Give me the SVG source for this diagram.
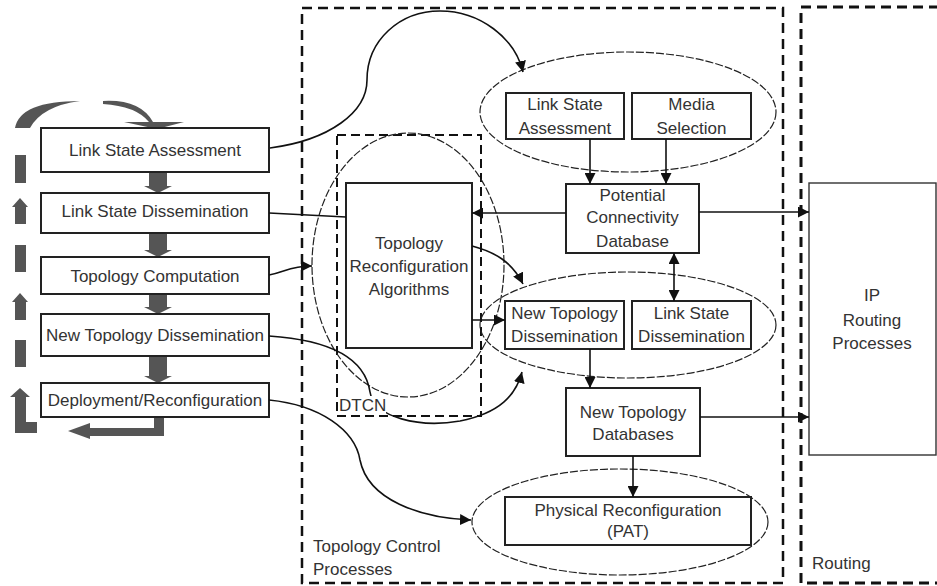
<svg xmlns="http://www.w3.org/2000/svg" width="937" height="586" viewBox="0 0 937 586">
<defs>
<marker id="ah" viewBox="0 0 10 10" refX="10" refY="5" markerWidth="11" markerHeight="11" markerUnits="userSpaceOnUse" orient="auto-start-reverse">
<path d="M0,0 L10,5 L0,10 Z" fill="#111"/>
</marker>
<style>
.box{fill:#fff;stroke:#222;stroke-width:2}
.t{font-family:"Liberation Sans",Arial,sans-serif;font-size:17px;fill:#333;text-anchor:middle}
.tl{font-family:"Liberation Sans",Arial,sans-serif;font-size:17px;fill:#333}
.con{fill:none;stroke:#111;stroke-width:1.6}
.ell{fill:none;stroke:#222;stroke-width:1.2;stroke-dasharray:8 2}
.gray{fill:#555;stroke:none}
.frame{fill:none;stroke:#111;stroke-width:2.5;stroke-dasharray:10 6}
</style>
</defs>
<rect width="937" height="586" fill="#fff"/>

<g id="topology-control-frame">
<rect class="frame" x="302" y="8" width="481" height="575"/>
<text class="tl" x="313" y="552">Topology Control</text>
<text class="tl" x="313" y="575">Processes</text>
</g>
<g id="routing-frame">
<rect class="frame" x="801" y="7" width="160" height="576" style="stroke-width:3"/>
<text class="tl" x="812" y="569">Routing</text>
</g>

<g id="dtcn">
<rect x="337" y="135" width="144" height="281" fill="none" stroke="#111" stroke-width="2" stroke-dasharray="9 5"/>
<ellipse class="ell" cx="408" cy="265" rx="96" ry="132"/>
</g>

<g id="ellipses">
<ellipse class="ell" cx="628" cy="112" rx="148" ry="60"/>
<ellipse class="ell" cx="628" cy="325" rx="148" ry="53"/>
<ellipse class="ell" cx="620" cy="522" rx="148" ry="53"/>
</g>

<g id="left-cycle">
<path class="gray" d="M149,172 H167 V186 H172 L158,193 L144,186 H149 Z"/>
<path class="gray" d="M149,233 H167 V250 H172 L158,257 L144,250 H149 Z"/>
<path class="gray" d="M149,294 H167 V307 H172 L158,314 L144,307 H149 Z"/>
<path class="gray" d="M149,356 H167 V376 H172 L158,383 L144,376 H149 Z"/>
<path class="gray" d="M154,417 H164 V436 H90 V439 L68,431 L90,423 V428 H154 Z"/>
<rect class="gray" x="15" y="155" width="11" height="28"/>
<path class="gray" d="M15,224 V207 H12 L20,198 L28,207 H26 V224 Z"/>
<rect class="gray" x="15" y="245" width="11" height="27"/>
<path class="gray" d="M15,320 V302 H12 L20,293 L28,302 H26 V320 Z"/>
<rect class="gray" x="15" y="340" width="11" height="27"/>
<path class="gray" d="M15,433 V397 H10 L20,388 L30,397 H26 V422 H37 V433 Z"/>
<path class="gray" d="M15,128 Q20,101 80,101 Q42,106 30,128 Z"/>
<path class="gray" d="M103,101 Q140,99 153,122 L149,122 Q136,106 103,104 Z"/>
<path class="gray" d="M124,122 L184,122 L157,129 Z"/>
</g>

<g id="link-state-assessment-step">
<rect class="box" x="41" y="128" width="228" height="44"/>
<text class="t" x="155" y="156">Link State Assessment</text>
</g>
<g id="link-state-dissemination-step">
<rect class="box" x="41" y="193" width="228" height="40"/>
<text class="t" x="155" y="217">Link State Dissemination</text>
</g>
<g id="topology-computation-step">
<rect class="box" x="41" y="257" width="228" height="37"/>
<text class="t" x="155" y="282">Topology Computation</text>
</g>
<g id="new-topology-dissemination-step">
<rect class="box" x="41" y="314" width="228" height="42"/>
<text class="t" x="155" y="341">New Topology Dissemination</text>
</g>
<g id="deployment-step">
<rect class="box" x="41" y="383" width="228" height="34"/>
<text class="t" x="155" y="406">Deployment/Reconfiguration</text>
</g>

<g id="topology-reconfiguration-algorithms">
<rect class="box" x="346" y="183" width="126" height="165"/>
<text class="t" x="409" y="249">Topology</text>
<text class="t" x="409" y="272">Reconfiguration</text>
<text class="t" x="409" y="295">Algorithms</text>
</g>

<g id="lsa-box">
<rect class="box" x="506" y="93" width="118" height="46"/>
<text class="t" x="565" y="110">Link State</text>
<text class="t" x="565" y="134">Assessment</text>
</g>
<g id="media-selection">
<rect class="box" x="632" y="93" width="119" height="46"/>
<text class="t" x="691.5" y="110">Media</text>
<text class="t" x="691.5" y="134">Selection</text>
</g>
<g id="potential-connectivity-database">
<rect class="box" x="566" y="184" width="133" height="69"/>
<text class="t" x="632.5" y="201">Potential</text>
<text class="t" x="632.5" y="223">Connectivity</text>
<text class="t" x="632.5" y="247">Database</text>
</g>
<g id="ntd-box">
<rect class="box" x="505" y="301" width="119" height="48"/>
<text class="t" x="564.5" y="319">New Topology</text>
<text class="t" x="564.5" y="342">Dissemination</text>
</g>
<g id="lsd-box">
<rect class="box" x="632" y="301" width="119" height="48"/>
<text class="t" x="691.5" y="319">Link State</text>
<text class="t" x="691.5" y="342">Dissemination</text>
</g>
<g id="new-topology-databases">
<rect class="box" x="566" y="388" width="134" height="68"/>
<text class="t" x="633" y="418">New Topology</text>
<text class="t" x="633" y="440">Databases</text>
</g>
<g id="physical-reconfiguration">
<rect class="box" x="505" y="497" width="246" height="48"/>
<text class="t" x="628" y="516">Physical Reconfiguration</text>
<text class="t" x="628" y="537">(PAT)</text>
</g>
<g id="ip-routing">
<rect x="809" y="183" width="127" height="272" fill="#fff" stroke="#333" stroke-width="1.4"/>
<text class="t" x="872" y="301">IP</text>
<text class="t" x="872" y="326">Routing</text>
<text class="t" x="872" y="349">Processes</text>
</g>

<g id="connectors">
<path class="con" d="M270,148 C330,140 367,112 367,80 C367,40 400,11 440,11 C480,11 515,38 523,72" marker-end="url(#ah)"/>
<path class="con" d="M269,213 L346,217"/>
<path class="con" d="M269,275 C285,272 290,266 312,266" marker-end="url(#ah)"/>
<path class="con" d="M269,336 C330,340 365,358 370,392 C374,418 420,428 460,421 C500,413 516,395 522,372" marker-end="url(#ah)"/>
<path class="con" d="M269,400 C320,405 355,430 360,460 C368,500 420,518 471,520" marker-end="url(#ah)"/>
<path class="con" d="M472,246 C495,252 512,262 523,284" marker-end="url(#ah)"/>
<path class="con" d="M472,320 H505" marker-end="url(#ah)"/>
<path class="con" d="M566,213 H472" marker-end="url(#ah)"/>
<path class="con" d="M699,212 H809" marker-end="url(#ah)"/>
<path class="con" d="M700,417 H809" marker-end="url(#ah)"/>
<path class="con" d="M590,139 V184" marker-end="url(#ah)"/>
<path class="con" d="M666,139 V184" marker-end="url(#ah)"/>
<path class="con" d="M674,253 V301" marker-start="url(#ah)" marker-end="url(#ah)"/>
<path class="con" d="M590,349 V388" marker-end="url(#ah)"/>
<path class="con" d="M633,456 V497" marker-end="url(#ah)"/>
</g>

<g id="dtcn-label">
<rect x="338" y="396" width="48" height="18" fill="#fff"/>
<text class="tl" x="339" y="411">DTCN</text>
</g>
</svg>
